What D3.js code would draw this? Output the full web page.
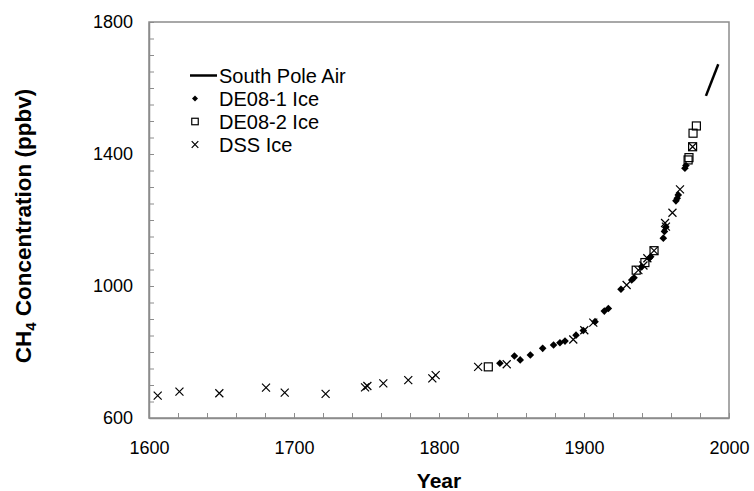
<!DOCTYPE html>
<html>
<head>
<meta charset="utf-8">
<script src="https://cdn.jsdelivr.net/npm/d3@7"></script>
<style>
  body { margin: 0; background: #fff; }
  svg { display: block; font-family: Arial, "Liberation Sans", sans-serif; }
</style>
</head>
<body>
<svg id="chart" width="754" height="491"></svg>
<script>
// ---- data ----
const southPoleAir = [[1984.1, 1576], [1992.6, 1672]];

const de081Years = [1842, 1852, 1856, 1863, 1871.5, 1879, 1883.4, 1886.9, 1894.5, 1899.5, 1907.6, 1914, 1916.8,
  1925.5, 1932.9, 1934.5, 1939.8, 1945, 1946, 1954.7, 1955.5, 1956.3, 1963.4, 1964.3, 1965, 1969.6, 1970.3];
const de081Values = [766, 788, 776, 791, 811, 821, 828, 833, 851, 865, 892, 924, 932,
  990, 1018, 1025, 1058, 1084, 1089, 1145, 1165, 1178, 1258, 1266, 1276, 1357, 1365];

const de082Years = [1834, 1936, 1942, 1948.3, 1971.8, 1972.4, 1974.9, 1975.2, 1977.5];
const de082Values = [755, 1048, 1071, 1107, 1382, 1389, 1422, 1463, 1485];

const dssYears = [1606, 1621, 1648.5, 1680.7, 1693.6, 1721.8, 1749, 1750.6, 1761.6, 1778.8, 1795.4, 1797.7,
  1827, 1846.7, 1892.6, 1900.2, 1906.4, 1929.4, 1937.5, 1941, 1943.7, 1948.3, 1955.9, 1956.5, 1961, 1966.2, 1974.9];
const dssValues = [668, 680, 675, 692, 677, 673, 693, 697, 705, 715, 720, 730,
  755, 763, 838, 866, 889, 1003, 1048, 1062, 1084, 1107, 1191, 1180, 1222, 1293, 1422];

const xTicks = d3.range(1600, 2001, 20);
const xLabels = [1600, 1700, 1800, 1900, 2000];
const yTicks = d3.range(600, 1801, 50);
const yLabels = [600, 1000, 1400, 1800];

const legendItems = ["South Pole Air", "DE08-1 Ice", "DE08-2 Ice", "DSS Ice"];

// ---- layout ----
const svg = d3.select("#chart");
const x = d3.scaleLinear().domain([1600, 2000]).range([149, 729]);
const y = d3.scaleLinear().domain([600, 1800]).range([418, 22]);
const axisColor = "#8c8c8c";

// frame
svg.append("rect")
  .attr("x", x(1600)).attr("y", y(1800))
  .attr("width", x(2000) - x(1600)).attr("height", y(600) - y(1800))
  .attr("fill", "none").attr("stroke", axisColor).attr("stroke-width", 1.5);

// x axis
const xAxis = d3.axisBottom(x).tickValues(xTicks)
  .tickSizeInner(-5).tickSizeOuter(0).tickPadding(23)
  .tickFormat(d => xLabels.includes(d) ? d : "");
const gx = svg.append("g").attr("transform", `translate(0,${y(600)})`).call(xAxis);
gx.select(".domain").attr("stroke", axisColor).attr("stroke-width", 1.5);
gx.selectAll(".tick line").attr("stroke", axisColor).attr("stroke-width", 1);
gx.selectAll(".tick text").attr("fill", "#000").attr("font-size", 18).attr("font-family", "Arial, 'Liberation Sans', sans-serif");

// y axis
const yAxis = d3.axisLeft(y).tickValues(yTicks)
  .tickSizeInner(-5).tickSizeOuter(0).tickPadding(16)
  .tickFormat(d => yLabels.includes(d) ? d : "");
const gy = svg.append("g").attr("transform", `translate(${x(1600)},0)`).call(yAxis);
gy.select(".domain").attr("stroke", axisColor).attr("stroke-width", 1.5);
gy.selectAll(".tick line").attr("stroke", axisColor).attr("stroke-width", 1);
gy.selectAll(".tick text").attr("fill", "#000").attr("font-size", 18).attr("font-family", "Arial, 'Liberation Sans', sans-serif");

// axis titles
svg.append("text")
  .attr("x", (x(1600) + x(2000)) / 2).attr("y", 488)
  .attr("text-anchor", "middle").attr("font-size", 21).attr("font-weight", "bold")
  .text("Year");

const yt = svg.append("text")
  .attr("transform", "translate(31,226) rotate(-90)")
  .attr("text-anchor", "middle").attr("font-size", 22.5).attr("font-weight", "bold");
yt.append("tspan").text("CH");
yt.append("tspan").attr("font-size", 15).attr("dy", 5).text("4");
yt.append("tspan").attr("dy", -5).text(" Concentration (ppbv)");

// marker helpers
function diamond(g, cx, cy, r) {
  g.append("path")
    .attr("d", `M${cx},${cy - r}L${cx + r},${cy}L${cx},${cy + r}L${cx - r},${cy}Z`)
    .attr("fill", "#000");
}
function square(g, cx, cy, s) {
  g.append("rect").attr("x", cx - s / 2).attr("y", cy - s / 2)
    .attr("width", s).attr("height", s)
    .attr("fill", "none").attr("stroke", "#000").attr("stroke-width", 1.2);
}
function cross(g, cx, cy, r) {
  g.append("path")
    .attr("d", `M${cx - r},${cy - r}L${cx + r},${cy + r}M${cx - r},${cy + r}L${cx + r},${cy - r}`)
    .attr("stroke", "#000").attr("stroke-width", 1.2).attr("fill", "none");
}

const marks = svg.append("g");
de081Years.forEach((yr, i) => diamond(marks, x(yr), y(de081Values[i]), 3.8));
de082Years.forEach((yr, i) => square(marks, x(yr), y(de082Values[i]), 8));
dssYears.forEach((yr, i) => cross(marks, x(yr), y(dssValues[i]), 4));

svg.append("path")
  .datum(southPoleAir)
  .attr("d", d3.line().x(d => x(d[0])).y(d => y(d[1])))
  .attr("stroke", "#000").attr("stroke-width", 2.5).attr("fill", "none");

// legend
const lg = svg.append("g");
const baseY = 82.5, step = 23;
legendItems.forEach((name, i) => {
  const by = baseY + i * step;
  const cy = by - 7;
  if (i === 0) {
    lg.append("line").attr("x1", 190).attr("x2", 217).attr("y1", cy).attr("y2", cy)
      .attr("stroke", "#000").attr("stroke-width", 2.5);
  } else if (i === 1) {
    diamond(lg, 195, cy, 3);
  } else if (i === 2) {
    square(lg, 195, cy, 6.5);
  } else {
    cross(lg, 195, cy, 3.3);
  }
  lg.append("text").attr("x", 219).attr("y", by).attr("font-size", 20).text(name);
});
</script>
</body>
</html>
